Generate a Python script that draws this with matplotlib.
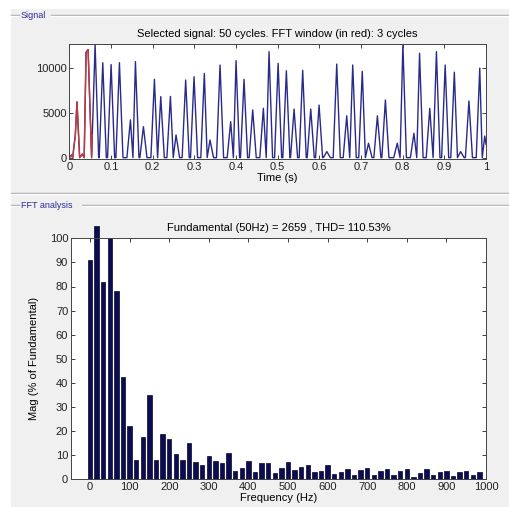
import numpy as np
import matplotlib
matplotlib.use('Agg')
import matplotlib.pyplot as plt
from matplotlib.patches import Rectangle
from matplotlib.lines import Line2D

plt.rcParams['font.family'] = ['Liberation Sans', 'DejaVu Sans']

#---------Signal peaks (time s, amplitude)--------------------------------------
peak_t = [0.005, 0.011, 0.0142, 0.0182, 0.031, 0.040, 0.0449,
          0.0617, 0.0801, 0.1001, 0.1201, 0.1465, 0.1585, 0.1777, 0.2041, 0.2193,
          0.2425, 0.2560, 0.2791, 0.2992, 0.3239, 0.3375, 0.3616, 0.3872, 0.4000,
          0.4192, 0.4400, 0.4656, 0.4792, 0.5010, 0.5208, 0.5393, 0.5600, 0.5793,
          0.5993, 0.6180, 0.6417, 0.6657, 0.6801, 0.7030, 0.7180, 0.7393, 0.7585,
          0.7870, 0.8005, 0.8270, 0.8405, 0.8650, 0.8810, 0.9020, 0.9240, 0.9390,
          0.9590, 0.9850, 0.9970]
peak_v = [300, 1300, 2500, 6200, 400, 11700, 12000,
          12600, 10550, 10350, 10550, 4190, 10670, 3440, 8700, 6780,
          6800, 2520, 8630, 8990, 9360, 1960, 10290, 4000, 10780,
          8700, 5300, 5480, 11780, 10480, 9660, 5400, 9700, 5400,
          5840, 670, 10400, 4650, 10300, 9600, 1600, 4650, 6410,
          1600, 12600, 2700, 11600, 5480, 11780, 10290, 9500, 670,
          6300, 9950, 2400]
t_end = 1.0
v_end = 1500
red_end = 0.055   # end of the red FFT window trace (3 cycles)

#---------FFT magnitudes (% of fundamental), bins every 50/3 Hz-----------------
mag = [91, 105, 82, 100, 78, 42.5, 22, 8, 17.5, 35, 8, 18.8, 16.9, 10.4, 8, 14.9,
       7.2, 6.1, 9.5, 7.6, 6.9, 10.8, 3.6, 4.6, 7.6, 2.9, 6.6, 6.9, 2.5, 4.6,
       7.2, 3.9, 5.0, 5.8, 3.2, 3.6, 5.9, 2.1, 3.2, 4.1, 1.9, 3.9, 4.7, 1.9,
       3.5, 4.4, 1.9, 3.5, 4.4, 1.1, 2.5, 4.1, 1.9, 2.9, 3.5, 1.5, 2.9, 3.5,
       1.8, 2.9]
freq = np.arange(len(mag)) * 50.0 / 3

#------------------------------------------

hw = 0.0085  # half width of a pulse at the base
sig_t = [0.0]
sig_v = [0.0]
for i in range(len(peak_t)):
    if i > 0:
        gap = peak_t[i] - peak_t[i-1]
        if gap > 2*hw:
            sig_t += [peak_t[i-1] + hw, peak_t[i] - hw]
            sig_v += [0, 0]
        elif gap > 0.005:
            sig_t.append((peak_t[i-1] + peak_t[i]) / 2)
            sig_v.append(0)
    elif peak_t[0] - hw > 0:
        sig_t.append(peak_t[0] - hw)
        sig_v.append(0)
    sig_t.append(peak_t[i])
    sig_v.append(peak_v[i])
sig_t.append(t_end)
sig_v.append(v_end)
sig_t = np.array(sig_t)
sig_v = np.array(sig_v)

W, H = 509, 507
fig = plt.figure(figsize=(W/100, H/100), dpi=100)
fig.patch.set_facecolor('white')

def fx(px):
    return px / W

def fy(py):
    return 1 - py / H

# panel background
bg = Rectangle((fx(11), 0), 1 - fx(11), fy(9), transform=fig.transFigure,
               facecolor='#f0f0f0', edgecolor='none', zorder=-10)
fig.add_artist(bg)

def etched(x0, x1, y):
    fig.add_artist(Line2D([fx(x0), fx(x1)], [fy(y), fy(y)], color='#a8a8a8', lw=1, zorder=-5))
    fig.add_artist(Line2D([fx(x0), fx(x1)], [fy(y+1), fy(y+1)], color='white', lw=1, zorder=-5))

etched(11, 19, 15)
etched(51, 509, 15)
etched(11, 509, 193)
etched(11, 19, 205)
etched(82, 509, 205)
fig.text(fx(21), fy(15), 'Signal', fontsize=6.5, color='#2a2a9a', va='center', ha='left')
fig.text(fx(21), fy(205), 'FFT analysis', fontsize=6.5, color='#2a2a9a', va='center', ha='left')

#---------Signal axes-----------------
ax = fig.add_axes([fx(69.4), fy(159), fx(486) - fx(69.4), fy(44) - fy(159)])
ax.plot(sig_t, sig_v, color='#2a2a8a', lw=1.0)
red_t = sig_t[sig_t <= red_end]
red_v = sig_v[sig_t <= red_end]
red_t = np.append(red_t, red_end)
red_v = np.append(red_v, np.interp(red_end, sig_t, sig_v))
ax.plot(red_t, red_v, color='#c43a3a', lw=1.0)
ax.set_xlim(0, 1)
ax.set_ylim(-150, 12630)
ax.set_xticks(np.arange(0, 1.01, 0.1))
ax.set_xticklabels(['0', '0.1', '0.2', '0.3', '0.4', '0.5', '0.6', '0.7', '0.8', '0.9', '1'])
ax.set_yticks([0, 5000, 10000])
ax.set_xlabel('Time (s)', fontsize=8, labelpad=1)
ax.set_title('Selected signal: 50 cycles. FFT window (in red): 3 cycles', fontsize=8, pad=5)

#---------FFT axes-----------------
ax2 = fig.add_axes([fx(71), fy(479.3), fx(486) - fx(71), fy(238.3) - fy(479.3)])
bars = ax2.bar(freq, mag, width=11, color='#0c0c50', edgecolor='#050530', lw=0.5)
for b in bars:
    b.set_clip_on(False)
ax2.set_xlim(-48, 1000)
ax2.set_ylim(0, 100)
ax2.set_xticks(np.arange(0, 1001, 100))
ax2.set_yticks(np.arange(0, 101, 10))
ax2.set_xlabel('Frequency (Hz)', fontsize=8, labelpad=1)
ax2.set_ylabel('Mag (% of Fundamental)', fontsize=8, labelpad=8)
ax2.set_title('Fundamental (50Hz) = 2659 , THD= 110.53%', fontsize=8, pad=5)

for a in (ax, ax2):
    a.tick_params(direction='in', length=3, width=0.6, labelsize=8, top=True, right=True,
                  colors='#222222', pad=2)
    for s in a.spines.values():
        s.set_linewidth(0.7)
        s.set_color('#444444')

fig.savefig('out.png', dpi=100, facecolor=fig.get_facecolor())
